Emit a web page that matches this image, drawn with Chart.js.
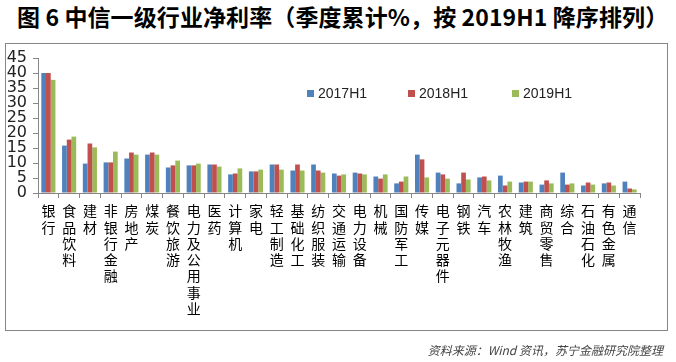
<!DOCTYPE html>
<html>
<head>
<meta charset="utf-8">
<script src="https://cdn.jsdelivr.net/npm/chart.js@4/dist/chart.umd.min.js"></script>
<style>
  html, body { margin: 0; padding: 0; background: #fff; overflow: hidden; }
  #wrap { position: relative; width: 676px; height: 362px; }
  #title { position: absolute; left: 17px; top: 2px; font-family: "Noto Sans CJK SC", sans-serif; font-weight: bold; font-size: 23px; line-height: 28px; color: #000; white-space: nowrap; letter-spacing: 0.1px; }
  #box { position: absolute; left: 5px; top: 43px; width: 661px; height: 286px; border: 1px solid #868686; }
  #src { position: absolute; right: 13px; top: 341px; font-family: "Noto Sans CJK SC", sans-serif; font-style: italic; font-size: 12px; line-height: 18px; color: #444; white-space: nowrap; }
  canvas { position: absolute; left: 0; top: 0; }
  .lg { position: absolute; top: 85px; font-family: "Liberation Sans", sans-serif; font-size: 14px; line-height: 16px; color: #222; white-space: nowrap; }
  .lg i { display: inline-block; width: 7px; height: 7px; margin-right: 4px; vertical-align: 1px; }
</style>
</head>
<body>
<div id="wrap">
  <div id="title">图 6 中信一级行业净利率（季度累计%，按 2019H1 降序排列）</div>
  <div id="box"></div>
  <canvas id="c" width="676" height="362"></canvas>
  <div id="legend"></div>
  <div id="src">资料来源：Wind 资讯，苏宁金融研究院整理</div>
</div>
<script>
const categories = ['银行','食品饮料','建材','非银行金融','房地产','煤炭','餐饮旅游','电力及公用事业','医药','计算机','家电','轻工制造','基础化工','纺织服装','交通运输','电力设备','机械','国防军工','传媒','电子元器件','钢铁','汽车','农林牧渔','建筑','商贸零售','综合','石油石化','有色金属','通信'];
const seriesNames = ['2017H1','2018H1','2019H1'];
const h2017 = [40, 15.8, 9.8, 10.2, 11.5, 12.8, 8.5, 9.2, 9.5, 6.2, 7.2, 9.5, 7.5, 9.5, 6.5, 6.8, 5.5, 3.2, 12.8, 6.8, 3.2, 5.2, 5.8, 3.5, 2.8, 6.8, 2.5, 3.2, 3.8];
const h2018 = [40, 17.8, 16.5, 10.2, 13.5, 13.5, 9.2, 9.2, 9.5, 6.5, 7.2, 9.5, 9.5, 7.5, 5.8, 6.5, 4.8, 3.8, 11.2, 6.2, 6.8, 5.5, 2.5, 3.8, 4.2, 2.8, 3.5, 3.5, 1.5];
const h2019 = [37.7, 18.8, 15.2, 13.8, 12.8, 12.8, 10.8, 9.8, 8.8, 8.2, 7.8, 7.8, 7.5, 6.8, 6.2, 6.2, 6.2, 5.5, 5.2, 4.8, 4.5, 4.2, 3.8, 3.8, 3.2, 3.2, 2.8, 2.5, 1.2];
const yTicks = [0, 5, 10, 15, 20, 25, 30, 35, 40, 45];

const colors = ['#4F81BD', '#C0504D', '#9BBB59'];
const values = [h2017, h2018, h2019];

const datasets = seriesNames.map((n, i) => ({
  label: n,
  data: values[i],
  backgroundColor: colors[i],
  borderWidth: 0,
  barPercentage: 1.0,
  categoryPercentage: 0.68
}));

// HTML legend built from the datasets
const legendX = [307, 408, 512];
const lg = document.getElementById('legend');
datasets.forEach((d, i) => {
  const el = document.createElement('div');
  el.className = 'lg';
  el.style.left = legendX[i] + 'px';
  el.innerHTML = '<i style="background:' + d.backgroundColor + '"></i>' + d.label;
  lg.appendChild(el);
});

const axisColor = '#868686';
new Chart(document.getElementById('c'), {
  type: 'bar',
  data: { labels: categories.map(s => s.split('')), datasets },
  options: {
    responsive: false,
    animation: false,
    layout: { padding: { left: 0, top: 58, right: 36, bottom: 0 } },
    plugins: { legend: { display: false }, tooltip: { enabled: false }, title: { display: false } },
    scales: {
      x: {
        offset: true,
        grid: { display: true, drawOnChartArea: false, drawTicks: true, tickLength: 5, color: axisColor, offset: true },
        border: { display: true, color: axisColor, width: 1 },
        ticks: {
          autoSkip: false, maxRotation: 0, minRotation: 0, padding: 5,
          color: '#000',
          font: { family: '"Noto Sans CJK SC", sans-serif', size: 14, lineHeight: 1.16 }
        },
        afterFit: s => { s.height = 362 - 193; }
      },
      y: {
        min: 0, max: 45,
        afterBuildTicks: s => { s.ticks = yTicks.map(v => ({ value: v })); },
        grid: { display: true, drawOnChartArea: false, drawTicks: true, tickLength: 5, color: axisColor },
        border: { display: true, color: axisColor, width: 1 },
        ticks: {
          autoSkip: false, padding: 6, color: '#222',
          font: { family: '"DejaVu Sans", sans-serif', size: 16 }
        },
        afterFit: s => { s.width = 38; }
      }
    }
  }
});
</script>
</body>
</html>
